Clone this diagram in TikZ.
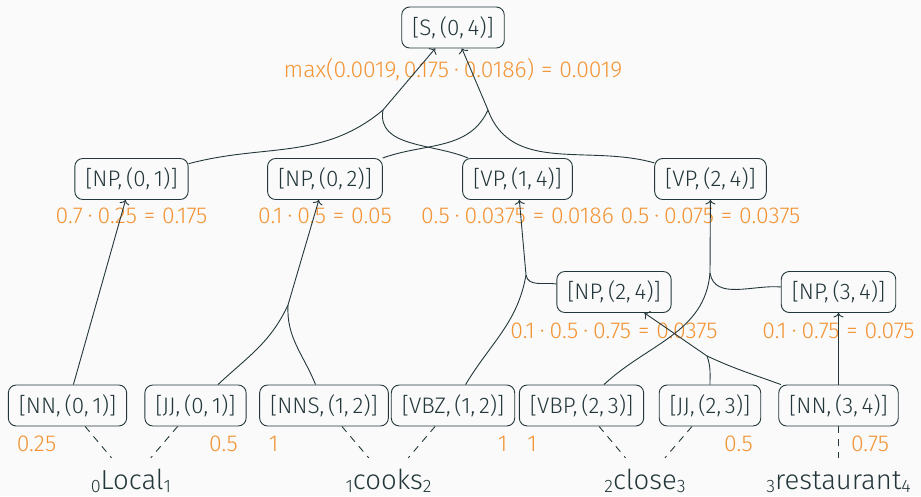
\documentclass[tikz,border=0pt]{standalone}
\usepackage{fontspec}
\IfFontExistsTF{Fira Sans Light}{\setmainfont{Fira Sans Light}}{\setmainfont{Fira Sans}}
\usetikzlibrary{arrows.meta}

\definecolor{mteal}{HTML}{23373B}
\definecolor{morange}{HTML}{F39436}
\definecolor{mbg}{HTML}{FAFAFA}

% spacing around the binary operators in the score texts
\newcommand{\md}{\hspace{.22em}·\hspace{.22em}}
\newcommand{\meq}{\hspace{.3em}=\hspace{.3em}}
% position index written beside a word
\newcommand{\wi}[1]{\raisebox{-3pt}{\fontsize{18}{18}\selectfont #1}}

\begin{document}
\begin{tikzpicture}[x=1pt,y=-1pt,
  every node/.style={text=mteal},
  item/.style={draw=mteal, line width=0.9pt, rounded corners=8pt,
    minimum height=41pt, inner xsep=10.5pt, font=\fontsize{22.5}{26}\selectfont},
  score/.style={text=morange, anchor=base, inner sep=0pt,
    font=\fontsize{23}{27}\selectfont},
  word/.style={anchor=base, text height=20pt, text depth=4pt,
    inner ysep=11pt, inner xsep=2pt, font=\fontsize{27.5}{30}\selectfont},
  link/.style={draw=mteal, line width=0.9pt},
  up/.style={link, -{To[length=4.5pt,width=10pt]}},
  lex/.style={link, dash pattern=on 7pt off 6pt},
]
\fill[mbg] (0,0) rectangle (921,496);
\useasboundingbox (0,0) rectangle (921,496);

% root
\node[item] (s) at (453,27.5) {[S,\,(0,\,4)]};
\node[score] (ss) at (453,77) {max(0.0019,\,0.175\md 0.0186)\meq 0.0019};

% upper items
\node[item] (np01) at (131.5,179) {[NP,\,(0,\,1)]};
\node[item] (np02) at (325,179) {[NP,\,(0,\,2)]};
\node[item] (vp14) at (517.5,179) {[VP,\,(1,\,4)]};
\node[item] (vp24) at (710.5,179) {[VP,\,(2,\,4)]};
\node[score] (snp01) at (131.5,223) {0.7\md 0.25\meq 0.175};
\node[score] (snp02) at (325,223) {0.1\md 0.5\meq 0.05};
\node[score] (svp14) at (517.5,223) {0.5\md 0.0375\meq 0.0186};
\node[score] (svp24) at (710.5,223) {0.5\md 0.075\meq 0.0375};

% noun phrases over the last words
\node[item] (np24) at (614,292) {[NP,\,(2,\,4)]};
\node[item] (np34) at (838.5,292) {[NP,\,(3,\,4)]};
\node[score] (snp24) at (614,338) {0.1\md 0.5\md 0.75\meq 0.0375};
\node[score] (snp34) at (838.5,338) {0.1\md 0.75\meq 0.075};

% tags
\node[item] (nn01) at (67.5,405.5) {[NN,\,(0,\,1)]};
\node[item] (jj01) at (195.5,405.5) {[JJ,\,(0,\,1)]};
\node[item] (nns12) at (324,405.5) {[NNS,\,(1,\,2)]};
\node[item] (vbz12) at (453,405.5) {[VBZ,\,(1,\,2)]};
\node[item] (vbp23) at (581.5,405.5) {[VBP,\,(2,\,3)]};
\node[item] (jj23) at (710,405.5) {[JJ,\,(2,\,3)]};
\node[item] (nn34) at (838.5,405.5) {[NN,\,(3,\,4)]};

\node[score] (snn01) at (36.5,451) {0.25};
\node[score] (sjj01) at (223.5,451) {0.5};
\node[score] (snns12) at (273.5,451) {1};
\node[score] (svbz12) at (502.5,451) {1};
\node[score] (svbp23) at (532,451) {1};
\node[score] (sjj23) at (738.5,451) {0.5};
\node[score] (snn34) at (870,451) {0.75};

% words
\node[word] (w0) at (131,489) {\wi{0}Local\wi{1}};
\node[word] (w1) at (388.5,489) {\wi{1}cooks\wi{2}};
\node[word] (w2) at (645,489) {\wi{2}close\wi{3}};
\node[word] (w3) at (838.5,489) {\wi{3}restaurant\wi{4}};

% lexical links
\draw[lex] (nn01) -- (w0);
\draw[lex] (jj01) -- (w0);
\draw[lex] (nns12) -- (w1);
\draw[lex] (vbz12) -- (w1);
\draw[lex] (vbp23) -- (w2);
\draw[lex] (jj23) -- (w2);
\draw[lex] (nn34) -- (w3);

% hyperedge junctions
\coordinate (jS1) at (383,110);
\coordinate (jS2) at (488,110);
\coordinate (j02) at (288,305);
\coordinate (j14) at (526,275);
\coordinate (j24) at (710,273);
\coordinate (jn24) at (707,356);

% S -> NP VP
\draw[link] (np01) to[out=15,in=-140] (jS1);
\draw[link] (vp14) to[out=157,in=-100] (jS1);
\draw[up] (jS1) -- (s);
\draw[link] (np02) to[out=20,in=-115] (jS2);
\draw[link] (vp24) to[out=164,in=-70] (jS2);
\draw[up] (jS2) -- (s);

% NP -> NN
\draw[up] (nn01) -- (np01);

% NP -> JJ NNS
\draw[link] (jj01) to[out=43,in=-115] (j02);
\draw[link] (nns12) to[out=112,in=-93] (j02);
\draw[up] (j02) -- (np02);

% VP -> VBZ NP
\draw[link] (vbz12) to[out=59,in=-100] (j14);
\draw[link] (np24) to[out=172,in=-80] (j14);
\draw[up] (j14) -- (vp14);

% VP -> VBP NP
\draw[link] (vbp23) to[out=43,in=-95] (j24);
\draw[link] (np34) to[out=175,in=-80] (j24);
\draw[up] (j24) -- (vp24);

% NP -> JJ NN
\draw[link] (jj23) to[out=90,in=-70] (jn24);
\draw[link] (nn34) to[out=160,in=-25] (jn24);
\draw[up] (jn24) -- (np24);

% NP -> NN
\draw[up] (nn34) -- (np34);
\end{tikzpicture}
\end{document}
